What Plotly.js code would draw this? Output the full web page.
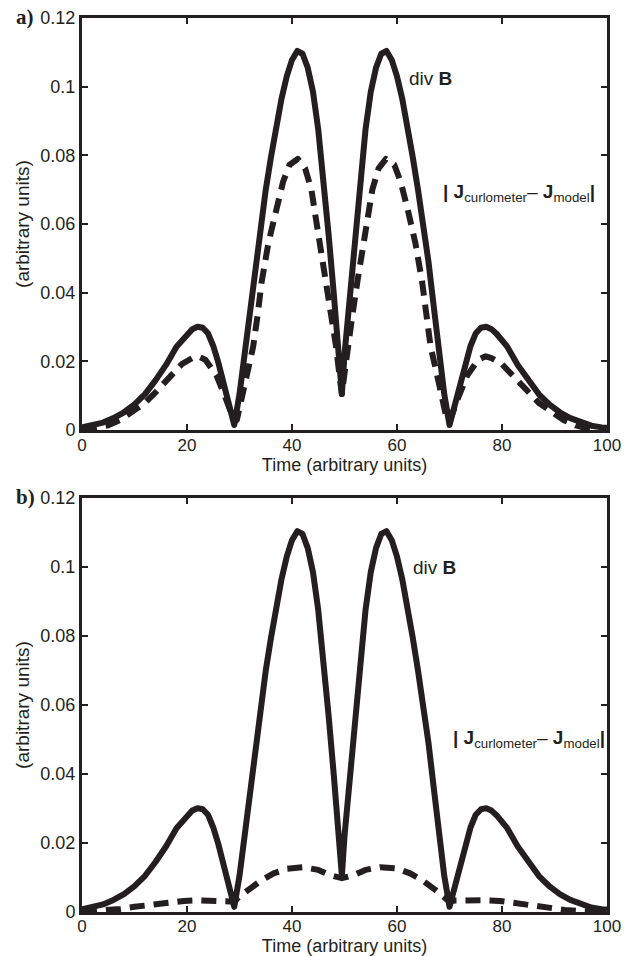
<!DOCTYPE html>
<html>
<head>
<meta charset="utf-8">
<script src="https://cdn.plot.ly/plotly-3.0.1.min.js"></script>
<style>html,body{margin:0;padding:0;background:#fff;}#chart{width:636px;height:956px;}
path.js-line{stroke-linejoin:round !important;}</style>
</head>
<body>
<div id="chart"></div>
<script>
// div B (solid) - same in both panels
const timeDivB = [0,2,4,6,8,10,12,14,16,18,20,21,22,23,24,25,26,27,28,29,30,31,32,33,34,35,36,37,38,39,40,41,42,43,44,45,46,47,48,49,49.5,50,51,52,53,54,55,56,57,58,59,60,61,62,63,64,65,66,67,68,69,70,71,72,73,74,75,76,77,78,79,81,83,85,87,89,91,93,95,97,99,100];
const divB = [0.0008,0.0013,0.0022,0.0035,0.0052,0.0075,0.0105,0.0145,0.0190,0.0243,0.0280,0.0294,0.0301,0.0298,0.0282,0.0245,0.0195,0.0137,0.0077,0.0015,0.0105,0.0225,0.0360,0.0490,0.0600,0.0700,0.0795,0.0885,0.0965,0.1030,0.1078,0.1104,0.1096,0.1055,0.0985,0.0875,0.0735,0.0565,0.0390,0.0220,0.0105,0.0220,0.0390,0.0565,0.0735,0.0875,0.0985,0.1055,0.1096,0.1104,0.1078,0.1030,0.0965,0.0885,0.0795,0.0700,0.0600,0.0490,0.0360,0.0225,0.0105,0.0015,0.0077,0.0137,0.0195,0.0245,0.0282,0.0298,0.0301,0.0294,0.0280,0.0243,0.0190,0.0145,0.0105,0.0075,0.0052,0.0035,0.0022,0.0013,0.0008,0.0007];

// |J_curlometer - J_model| panel a (dashed)
const timeJa = [0,3,5,7.2,9,11.9,14,16.7,19,21,22.1,23.5,25.6,27.2,28.3,29,29.5,30.4,31.5,32.6,33.5,34.2,35.5,37,38.3,39.5,41.1,42.5,43.7,44.3,45.5,46.5,47.5,48.4,49,49.5,50,50.6,51.5,52.5,53.5,54.7,55.3,56.5,57.9,59.5,60.7,62,63.5,64.8,65.5,66.4,67.5,68.6,69.5,70,70.7,71.8,73.4,75.5,76.9,78,80,82.3,85,87.1,90,91.8,94,96,99];
const jDiffA = [0.0000,0.0006,0.0014,0.0029,0.0048,0.0078,0.0110,0.0155,0.0192,0.0210,0.0215,0.0205,0.0160,0.0100,0.0050,0.0025,0.0030,0.0097,0.0170,0.0243,0.0340,0.0430,0.0545,0.0645,0.0723,0.0772,0.0790,0.0762,0.0700,0.0640,0.0525,0.0437,0.0335,0.0243,0.0165,0.0105,0.0165,0.0243,0.0335,0.0437,0.0525,0.0640,0.0700,0.0762,0.0790,0.0772,0.0723,0.0645,0.0545,0.0430,0.0340,0.0243,0.0170,0.0097,0.0030,0.0025,0.0050,0.0100,0.0160,0.0205,0.0215,0.0210,0.0192,0.0155,0.0110,0.0078,0.0048,0.0029,0.0014,0.0006,0.0000];

// |J_curlometer - J_model| panel b (dashed)
const timeJb = [0,4,7.3,10,14,17,19.4,22,25.7,28,29,30,31.7,34,36.5,39,42.2,45,47.2,49.5,51.8,54,56.8,60,62.5,65,67.3,69,70,71,73.3,77,79.6,82.7,85,89.1,92,95,100];
const jDiffB = [0.0000,0.0004,0.0009,0.0015,0.0023,0.0029,0.0032,0.0034,0.0034,0.0033,0.0030,0.0045,0.0064,0.0090,0.0112,0.0125,0.0130,0.0122,0.0107,0.0098,0.0107,0.0122,0.0130,0.0126,0.0112,0.0090,0.0064,0.0045,0.0030,0.0033,0.0034,0.0034,0.0032,0.0025,0.0020,0.0010,0.0006,0.0003,0.0000];

const xTicks = [0,20,40,60,80,100];
const yTicks = [0,0.02,0.04,0.06,0.08,0.1,0.12];
const yTickText = ['0','0.02','0.04','0.06','0.08','0.1','0.12'];
const xTitle = 'Time (arbitrary units)';
const yTitle = '(arbitrary units)';
const panelLabels = ['a)','b)'];
const divLabel = 'div <b>B</b>';
const jLabel = '<b>|</b> <b>J</b><sub>curlometer</sub>\u2013 <b>J</b><sub>model</sub><b>|</b>';

const ink = '#231f20';
const FONT = 'Liberation Sans, Arial, Helvetica, sans-serif';

const solid = {color: ink, width: 6};
const dashed = {color: ink, width: 6, dash: '15px,9px'};

const traces = [
  {x: timeDivB, y: divB, xaxis: 'x', yaxis: 'y', mode: 'lines', line: solid, hoverinfo: 'skip'},
  {x: timeJa, y: jDiffA, xaxis: 'x', yaxis: 'y', mode: 'lines', line: dashed, hoverinfo: 'skip'},
  {x: timeDivB, y: divB, xaxis: 'x2', yaxis: 'y2', mode: 'lines', line: solid, hoverinfo: 'skip'},
  {x: timeJb, y: jDiffB, xaxis: 'x2', yaxis: 'y2', mode: 'lines', line: dashed, hoverinfo: 'skip'}
];

function xAx(anchor) {
  return {
    anchor: anchor, domain: [0,1], range: [0,100],
    tickmode: 'array', tickvals: xTicks, ticktext: xTicks.map(String),
    ticks: 'inside', ticklen: 6, tickwidth: 2, tickcolor: ink,
    ticklabelstandoff: -3,
    showline: true, linewidth: 3, linecolor: ink, mirror: 'ticks',
    showgrid: false, zeroline: false,
    tickfont: {family: FONT, size: 17, color: ink},
    title: {text: xTitle, font: {family: FONT, size: 18, color: ink}, standoff: 3}
  };
}
function yAx(anchor, domain) {
  return {
    anchor: anchor, domain: domain, range: [0,0.12],
    tickmode: 'array', tickvals: yTicks, ticktext: yTickText,
    ticks: 'inside', ticklen: 6, tickwidth: 2, tickcolor: ink,
    showline: true, linewidth: 3, linecolor: ink, mirror: 'ticks',
    showgrid: false, zeroline: false,
    tickfont: {family: FONT, size: 18, color: ink},
    title: {text: yTitle, font: {family: FONT, size: 19, color: ink}, standoff: 6}
  };
}

const layout = {
  width: 636, height: 956,
  margin: {l: 82, r: 29, t: 18, b: 44},
  paper_bgcolor: '#ffffff', plot_bgcolor: '#ffffff',
  showlegend: false,
  xaxis: xAx('y'),
  yaxis: yAx('x', [0.539, 1]),
  xaxis2: xAx('y2'),
  yaxis2: yAx('x2', [0, 0.463]),
  annotations: [
    {text: '<b>' + panelLabels[0] + '</b>', xref: 'paper', yref: 'paper', x: -0.13, y: 1.001, xanchor: 'left', yanchor: 'middle', showarrow: false,
     font: {family: 'Liberation Serif, Times New Roman, serif', size: 21, color: ink}},
    {text: '<b>' + panelLabels[1] + '</b>', xref: 'paper', yref: 'paper', x: -0.13, y: 0.4642, xanchor: 'left', yanchor: 'middle', showarrow: false,
     font: {family: 'Liberation Serif, Times New Roman, serif', size: 21, color: ink}},
    {text: divLabel, xref: 'x', yref: 'y', x: 61.9, y: 0.1025, xanchor: 'left', yanchor: 'middle', showarrow: false,
     font: {family: FONT, size: 19, color: ink}},
    {text: jLabel, xref: 'x', yref: 'y', x: 68.3, y: 0.0690, xanchor: 'left', yanchor: 'middle', showarrow: false,
     font: {family: FONT, size: 19, color: ink}},
    {text: divLabel, xref: 'x2', yref: 'y2', x: 62.7, y: 0.100, xanchor: 'left', yanchor: 'middle', showarrow: false,
     font: {family: FONT, size: 19, color: ink}},
    {text: jLabel, xref: 'x2', yref: 'y2', x: 70.2, y: 0.0502, xanchor: 'left', yanchor: 'middle', showarrow: false,
     font: {family: FONT, size: 19, color: ink}}
  ]
};

Plotly.newPlot('chart', traces, layout, {staticPlot: true, displayModeBar: false});
</script>
</body>
</html>
